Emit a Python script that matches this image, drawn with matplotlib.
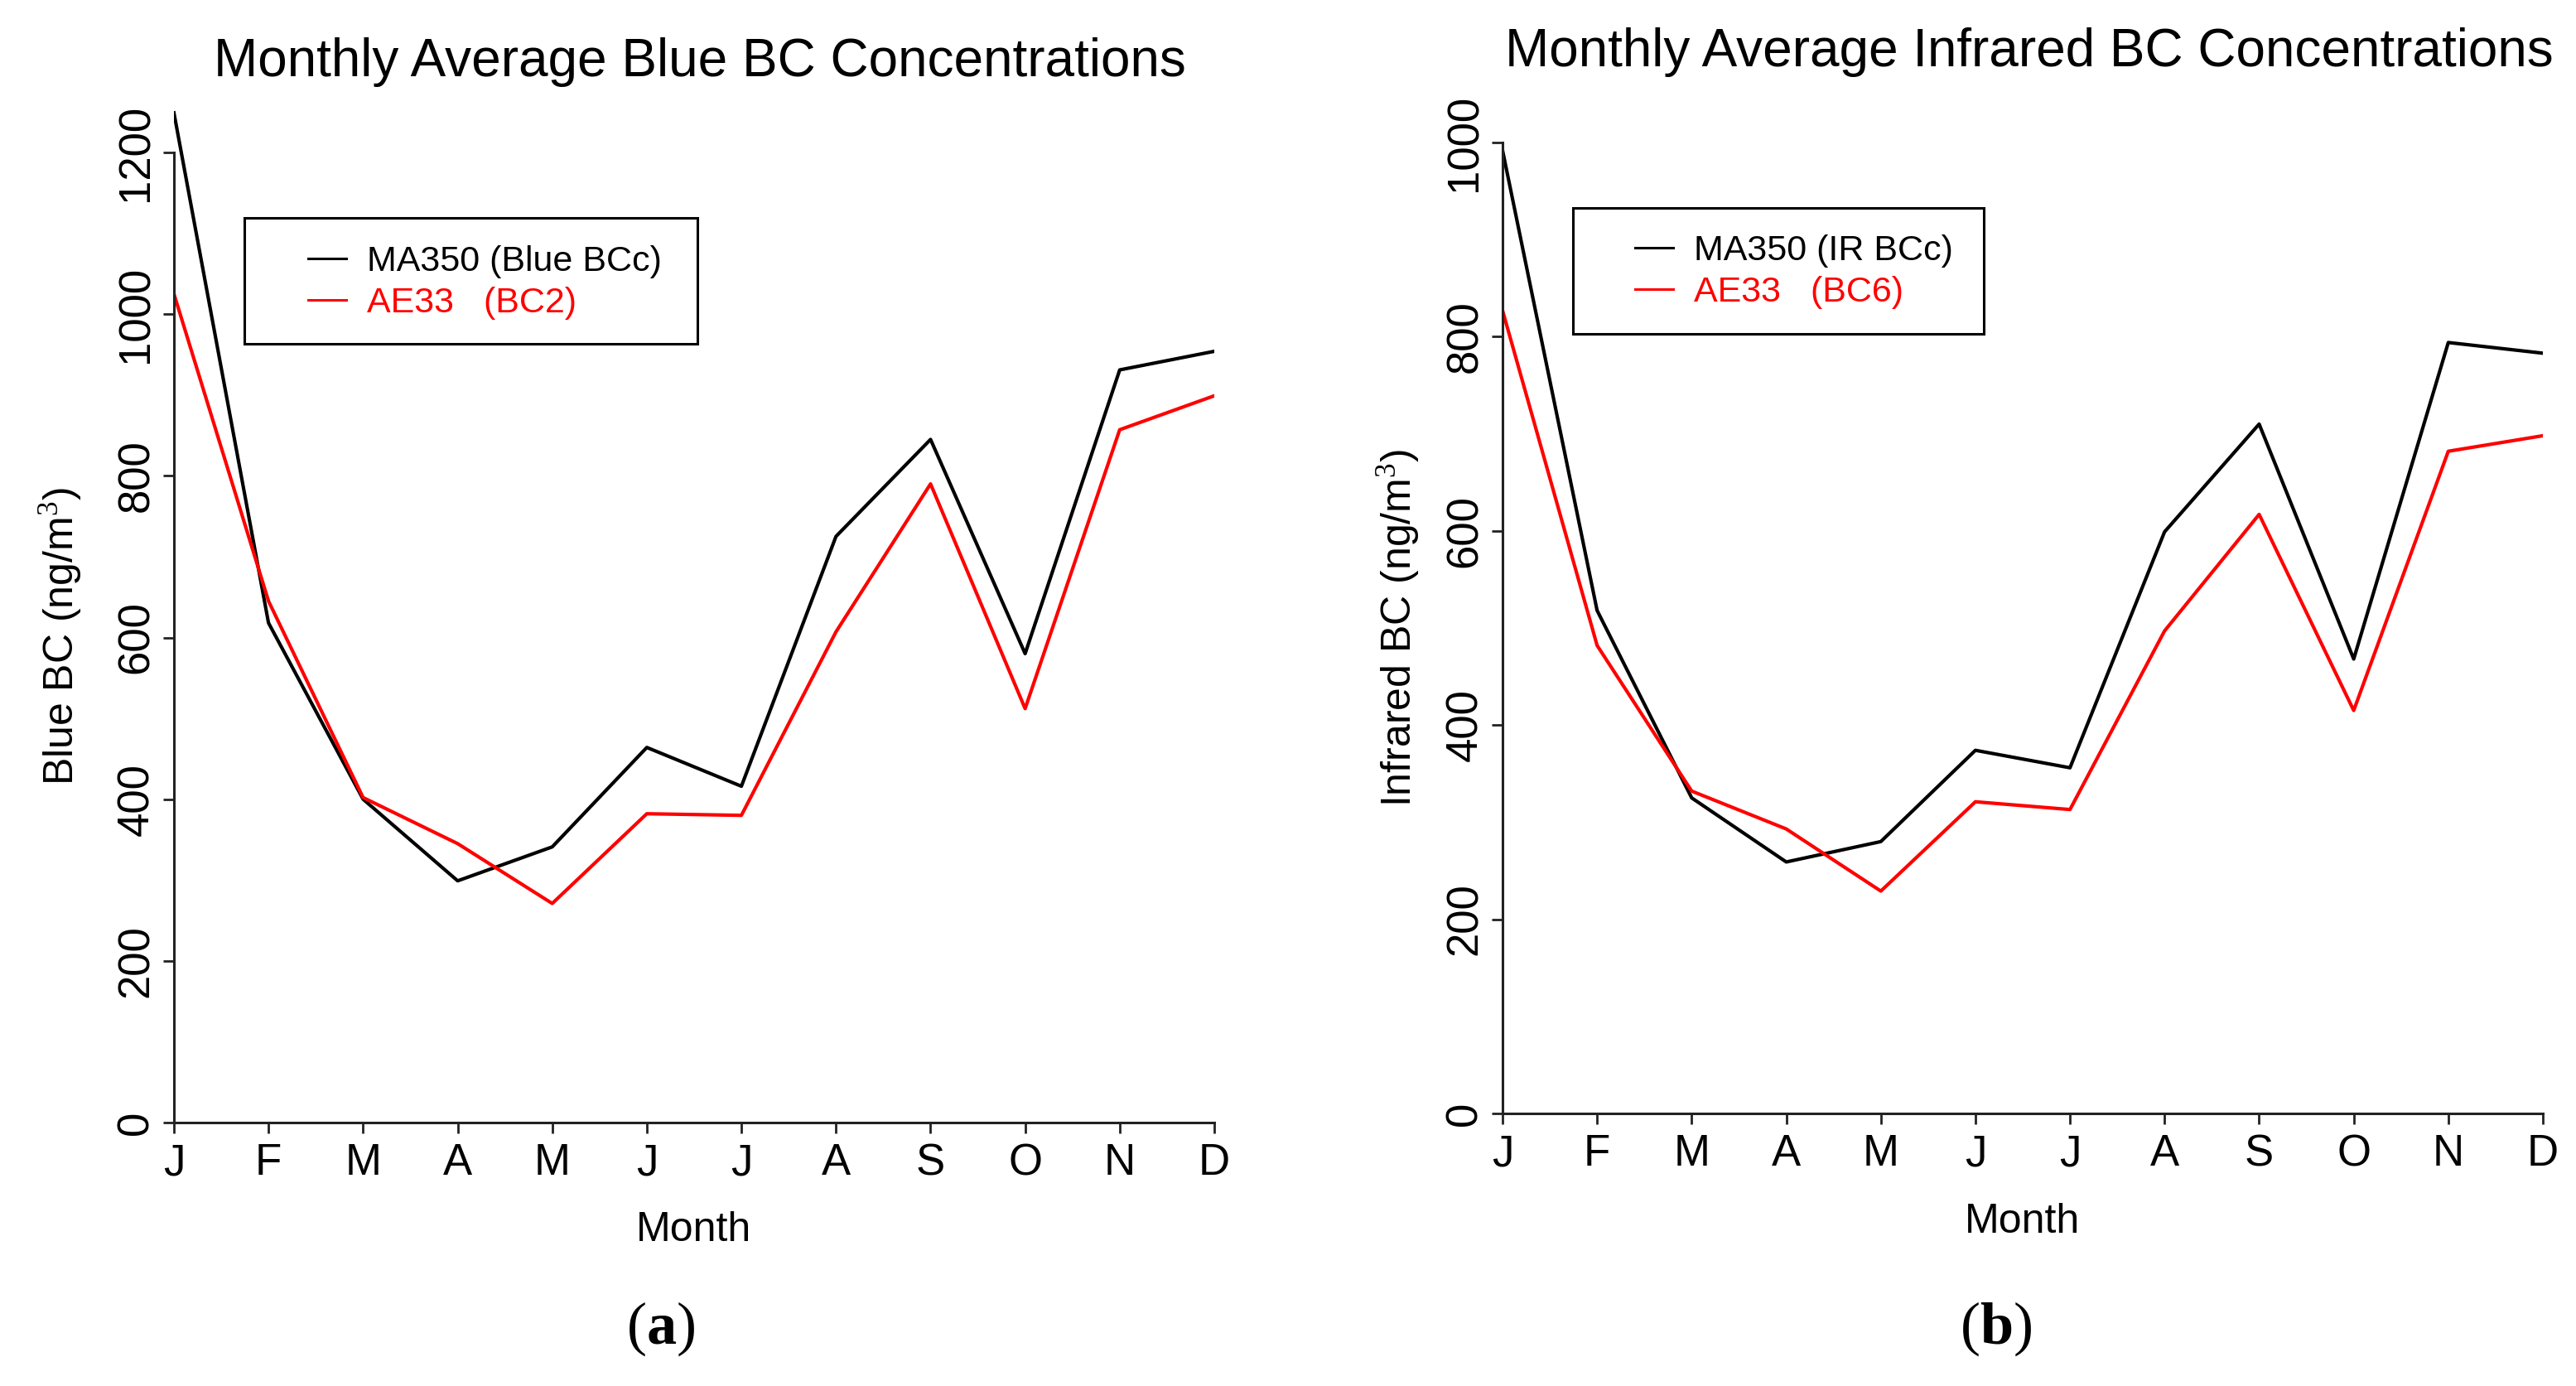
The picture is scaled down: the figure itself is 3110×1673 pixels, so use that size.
import matplotlib
matplotlib.use("Agg")
import matplotlib.pyplot as plt
from matplotlib.patches import Rectangle

plt.rcParams['font.family'] = ['Liberation Sans', 'DejaVu Sans']
plt.rcParams['mathtext.fontset'] = 'custom'
plt.rcParams['mathtext.rm'] = 'Liberation Serif'
plt.rcParams['mathtext.bf'] = 'Liberation Serif:bold'

months = ["J", "F", "M", "A", "M", "J", "J", "A", "S", "O", "N", "D"]
month_idx = list(range(1, 13))

blue_ma350 = [1249, 618, 400, 299, 341, 464, 416, 725, 845, 580, 931, 954]
blue_ae33 = [1025, 645, 402, 345, 271, 382, 380, 607, 790, 512, 857, 899]

ir_ma350 = [992, 518, 325, 259, 280, 374, 356, 599, 710, 468, 794, 783]
ir_ae33 = [827, 482, 332, 293, 229, 321, 313, 497, 617, 415, 682, 698]

blue_yticks = [0, 200, 400, 600, 800, 1000, 1200]
ir_yticks = [0, 200, 400, 600, 800, 1000]

W, H = 3110, 1673
fig = plt.figure(figsize=(W / 100, H / 100), dpi=100)


def fx(px):
    return px / W


def fy(py):
    return 1 - py / H


TICK_FS = 38
TITLE_FS = 46
LABEL_FS = 36
LEG_FS = 31
AXIS_COL = "#222222"


def panel(x0, x1, y_zero, y_lasttick, yticks, ylim_top, ma, ae, title, ylabel,
          leg_labels, leg_box, leg_anchor, title_xy, ylabel_xy, xlabel_xy,
          tag, tag_xy):
    scale = (y_zero - y_lasttick) / float(yticks[-1])
    y_top = y_zero - ylim_top * scale
    rect = [fx(x0), fy(y_zero), fx(x1) - fx(x0), fy(y_top) - fy(y_zero)]
    ax = fig.add_axes(rect)
    ax.plot(month_idx, ma, color="black", lw=3.0, label=leg_labels[0])
    ax.plot(month_idx, ae, color="#ff0000", lw=3.0, label=leg_labels[1])
    ax.set_xlim(1, 12)
    ax.set_ylim(0, ylim_top)
    for s in ["top", "right"]:
        ax.spines[s].set_visible(False)
    ax.spines["left"].set_bounds(yticks[0], yticks[-1])
    for s in ["left", "bottom"]:
        ax.spines[s].set_linewidth(2.2)
        ax.spines[s].set_color(AXIS_COL)
    ax.set_xticks(month_idx)
    ax.set_xticklabels(months, fontsize=TICK_FS)
    ax.set_yticks(yticks)
    ax.set_yticklabels([str(t) for t in yticks], fontsize=TICK_FS,
                       rotation=90, va="center")
    ax.tick_params(axis="both", length=9.5, width=2, color=AXIS_COL)
    ax.tick_params(axis="x", pad=8)
    ax.tick_params(axis="y", pad=5)
    ax.patch.set_alpha(0)

    leg = ax.legend(loc="upper left",
                    bbox_to_anchor=(fx(leg_anchor[0]), fy(leg_anchor[1])),
                    bbox_transform=fig.transFigure, frameon=False,
                    fontsize=LEG_FS, handlelength=1.07, handletextpad=0.58,
                    labelspacing=0.24, borderpad=0, borderaxespad=0,
                    labelcolor=["black", "#ff0000"])
    for line in leg.get_lines():
        line.set_linewidth(2.2)
    bx0, by0, bx1, by1 = leg_box
    fig.patches.append(Rectangle((fx(bx0), fy(by1)), fx(bx1) - fx(bx0),
                                 fy(by0) - fy(by1), transform=fig.transFigure,
                                 fill=False, edgecolor="black", lw=2.2))

    fig.text(fx(title_xy[0]), fy(title_xy[1]), title, fontsize=TITLE_FS,
             ha="center", va="baseline")
    fig.text(fx(ylabel_xy[0]), fy(ylabel_xy[1]), ylabel, fontsize=LABEL_FS,
             ha="center", va="center", rotation=90)
    fig.text(fx(xlabel_xy[0]), fy(xlabel_xy[1]), "Month", fontsize=LABEL_FS,
             ha="center", va="baseline")
    fig.text(fx(tag_xy[0]), fy(tag_xy[1]), r"$(\mathbf{%s})$" % tag,
             fontsize=52, ha="center", va="center")
    return ax


panel(210, 1466, 1355, 184, blue_yticks, 1300, blue_ma350, blue_ae33,
      "Monthly Average Blue BC Concentrations", "Blue BC (ng/m$^3$)",
      ["MA350 (Blue BCc)", "AE33   (BC2)"],
      (295, 263, 842, 415), (372, 296), (845, 92), (73, 768), (838, 1498),
      "a", (798, 1604))

panel(1814, 3070, 1344, 172, ir_yticks, 1040, ir_ma350, ir_ae33,
      "Monthly Average Infrared BC Concentrations", "Infrared BC (ng/m$^3$)",
      ["MA350 (IR BCc)", "AE33   (BC6)"],
      (1899, 251, 2395, 403), (1974, 283), (2450, 80), (1688, 758), (2442, 1488),
      "b", (2410, 1604))

fig.savefig("out.png", dpi=100, facecolor="white")
